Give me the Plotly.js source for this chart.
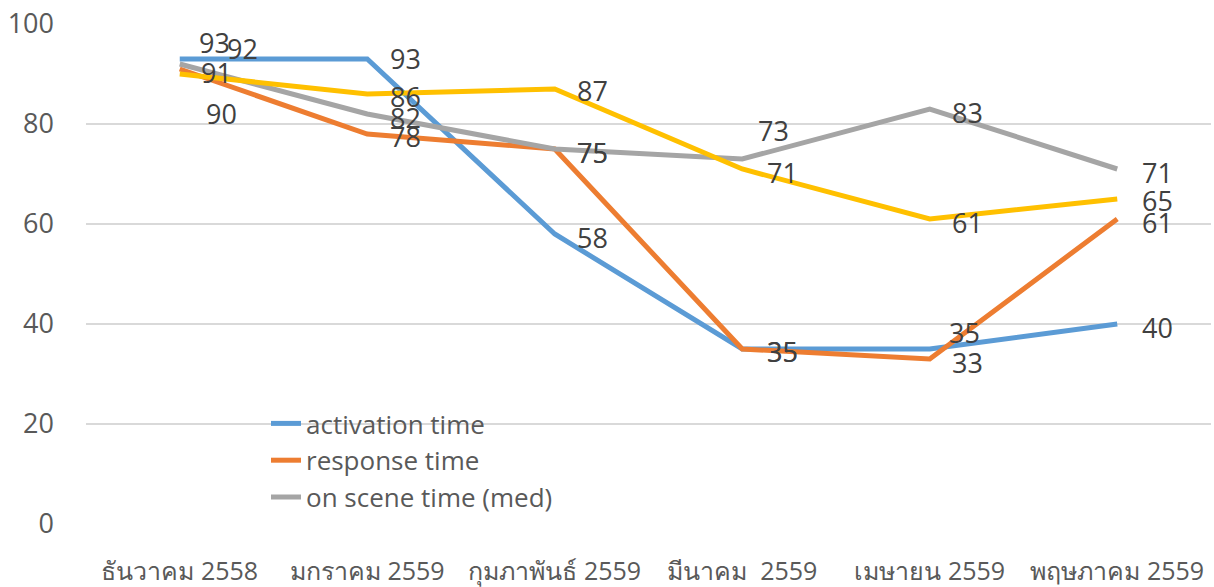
<!DOCTYPE html>
<html>
<head>
<meta charset="utf-8">
<script src="https://cdn.plot.ly/plotly-3.0.1.min.js"></script>
<style>html,body{margin:0;padding:0;background:#fff;}#chart{width:1214px;height:587px;}</style>
</head>
<body>
<div id="chart"></div>
<script>
var categories = ["ธันวาคม 2558", "มกราคม 2559", "กุมภาพันธ์ 2559", "มีนาคม  2559", "เมษายน 2559", "พฤษภาคม 2559"];
var activationTime = [93, 93, 58, 35, 35, 40];
var responseTime = [91, 78, 75, 35, 33, 61];
var onSceneTimeMed = [92, 82, 75, 73, 83, 71];
var series4 = [90, 86, 87, 71, 61, 65];
var yTicks = [0, 20, 40, 60, 80, 100];

var FONT = "'Open Sans', 'Noto Sans', sans-serif";
var series = [
  {name: "activation time", y: activationTime, color: "#5B9BD5", legend: true,
   off: [[35,-17],[38,-1],[38,3],[40,2],[35,-17],[40,3]]},
  {name: "response time", y: responseTime, color: "#ED7D31", legend: true,
   off: [[37,3],[38,2],[38,3],[40,2],[38,3],[40,3]]},
  {name: "on scene time (med)", y: onSceneTimeMed, color: "#A5A5A5", legend: true,
   off: [[63,-16],[38,3],[38,3],[31,-29],[38,3],[40,3]]},
  {name: "series 4", y: series4, color: "#FFC000", legend: false,
   off: [[42,39],[38,2],[38,1],[40,3],[38,3],[40,1]]}
];

var traces = [];
var annotations = [];
series.forEach(function(s){
  traces.push({
    type: "scatter", mode: "lines", name: s.name, x: categories, y: s.y,
    line: {color: s.color, width: 5}, showlegend: s.legend, hoverinfo: "skip"
  });
  s.y.forEach(function(v, i){
    annotations.push({
      x: categories[i], y: v, xref: "x", yref: "y", text: String(v), showarrow: false,
      xanchor: "center", yanchor: "middle", xshift: s.off[i][0], yshift: -s.off[i][1],
      font: {family: FONT, size: 27, color: "#404040"}
    });
  });
});

var layout = {
  width: 1214, height: 587,
  margin: {l: 86, r: 3, t: 24, b: 63},
  paper_bgcolor: "#fff", plot_bgcolor: "#fff",
  showlegend: true,
  legend: {x: 0.16, y: 0.248, xanchor: "left", yanchor: "top", bgcolor: "rgba(0,0,0,0)",
           font: {family: FONT, size: 26, color: "#595959"}, tracegroupgap: 0},
  xaxis: {type: "category", range: [-0.5, 5.5], showgrid: false, zeroline: false, showline: false,
          ticks: "", tickfont: {family: FONT, size: 25, color: "#595959"}, ticklabelstandoff: 30, fixedrange: true},
  yaxis: {range: [0, 100], tickvals: yTicks, ticktext: yTicks.map(String), showgrid: true, gridcolor: "#D9D9D9", gridwidth: 2,
          zeroline: false, showline: false, ticks: "",
          tickfont: {family: FONT, size: 27, color: "#595959"}, ticklabelstandoff: 31, fixedrange: true},
  annotations: annotations
};

Plotly.newPlot("chart", traces, layout, {displayModeBar: false, staticPlot: true});
</script>
</body>
</html>
